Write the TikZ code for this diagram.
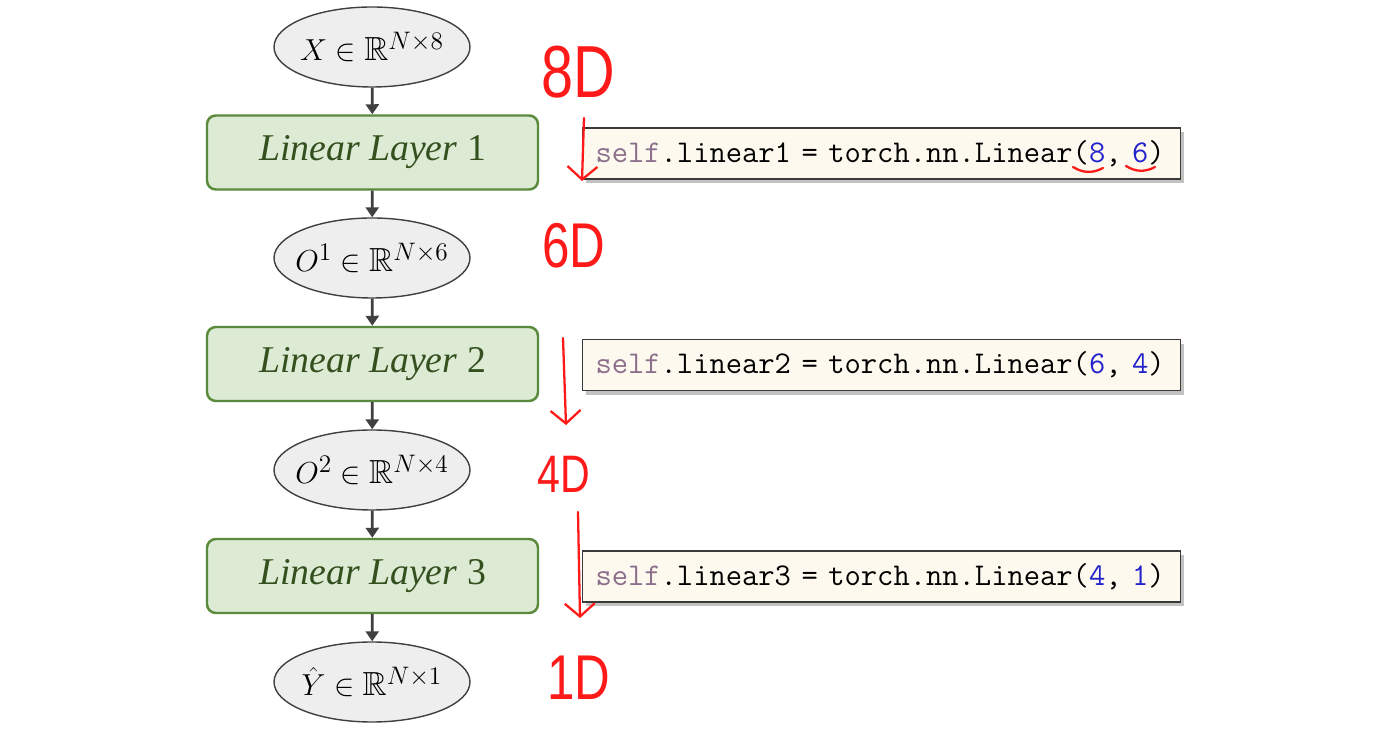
\documentclass[tikz,border=0pt]{standalone}
\usepackage{amssymb}
\usepackage{fontspec}
\newfontfamily\penfont[FakeStretch=0.78]{Liberation Sans}
\newfontfamily\layerfont{Liberation Serif}
\usetikzlibrary{arrows.meta, shapes.geometric, shadows}
\definecolor{edge}{HTML}{404040}
\definecolor{tensorfill}{HTML}{EEEEEE}
\definecolor{layeredge}{HTML}{5A8A3C}
\definecolor{layerfill}{HTML}{DDEBD5}
\definecolor{layertext}{HTML}{34501F}
\definecolor{codeedge}{HTML}{3A3A3A}
\definecolor{codefill}{HTML}{FDF9EE}
\definecolor{selfcol}{HTML}{8B6F8B}
\definecolor{numcol}{HTML}{2222CC}
\definecolor{pen}{HTML}{FF1A1A}
\tikzset{
  tensor/.style={ellipse, draw=edge, fill=tensorfill, line width=0.8pt,
    minimum width=3.92cm, minimum height=1.6cm, inner sep=0pt,
    font=\fontsize{19}{22}\selectfont},
  layer/.style={draw=layeredge, fill=layerfill, rounded corners=5pt, line width=1.4pt,
    minimum width=6.62cm, minimum height=1.48cm, inner sep=0pt, text=layertext,
    font=\layerfont\fontsize{21.5}{24}\selectfont},
  code/.style={draw=codeedge, fill=codefill, line width=0.6pt, anchor=west,
    text width=11.44cm, inner xsep=0.26cm, minimum height=1.02cm, align=left,
    font=\ttfamily\fontsize{18}{21}\selectfont,
    drop shadow={shadow xshift=2pt, shadow yshift=-2.5pt, opacity=0.4, fill=black!60}},
  flow/.style={-{Triangle[length=2mm, width=2.6mm]}, draw=edge, line width=1.6pt},
  pen/.style={draw=pen, line width=1.3pt, line cap=round, line join=round},
  penarrow/.style={pen, -{Straight Barb[length=2.6mm, width=6mm]}},
  penmark/.style={font=\penfont\fontsize{36}{40}\selectfont, text=pen, inner sep=0pt}
}
\newcommand{\selfkw}{{\color{selfcol}self}}
\newcommand{\num}[1]{{\color{numcol}#1}}
\newcommand{\tlabel}[1]{\makebox[0pt]{$#1$}}
\newcommand{\llabel}[1]{\textit{Linear Layer} #1}

\begin{document}
\begin{tikzpicture}[x=1cm,y=1cm]
\useasboundingbox (0,0) rectangle (27.62,14.66);

% Network flow
\node[tensor] (x) at (7.44,13.72) {\tlabel{X \in \mathbb{R}^{N\times 8}}};
\node[layer] (lin1) at (7.45,11.61) {\llabel{1}};
\node[tensor] (o1) at (7.44,9.50) {\tlabel{O^{1} \in \mathbb{R}^{N\times 6}}};
\node[layer] (lin2) at (7.45,7.38) {\llabel{2}};
\node[tensor] (o2) at (7.44,5.26) {\tlabel{O^{2} \in \mathbb{R}^{N\times 4}}};
\node[layer] (lin3) at (7.45,3.14) {\llabel{3}};
\node[tensor] (yhat) at (7.44,1.02) {\tlabel{\hat{Y} \in \mathbb{R}^{N\times 1}}};

\draw[flow] (x) -- (lin1);
\draw[flow] (lin1) -- (o1);
\draw[flow] (o1) -- (lin2);
\draw[flow] (lin2) -- (o2);
\draw[flow] (o2) -- (lin3);
\draw[flow] (lin3) -- (yhat);

% Code lines
\node[code] (code1) at (11.64,11.59)
  {\selfkw.linear1 = torch.nn.Linear(\num{8}, \num{6})};
\node[code] (code2) at (11.64,7.36)
  {\selfkw.linear2 = torch.nn.Linear(\num{6}, \num{4})};
\node[code] (code3) at (11.64,3.13)
  {\selfkw.linear3 = torch.nn.Linear(\num{4}, \num{1})};

% Handwritten notes
\node[penmark, font=\penfont\fontsize{42}{46}\selectfont] (d8) at (11.56,13.22) {8D};
\node[penmark] (d6) at (11.48,9.74) {6D};
\node[penmark, font=\penfont\fontsize{30}{34}\selectfont] (d4) at (11.28,5.18) {4D};
\node[penmark] (d1) at (11.58,1.10) {1D};

\coordinate (a1top) at (11.68,12.30);
\coordinate (a1tip) at (11.64,11.04);
\coordinate (a2top) at (11.26,7.90);
\coordinate (a2tip) at (11.32,6.16);
\coordinate (a3top) at (11.56,4.42);
\coordinate (a3tip) at (11.60,2.30);
\draw[penarrow] (a1top) -- (a1tip);
\draw[penarrow] (a2top) -- (a2tip);
\draw[penarrow] (a3top) -- (a3tip);

\coordinate (u8a) at (21.46,11.32);
\coordinate (u8b) at (22.06,11.30);
\coordinate (u6a) at (22.52,11.34);
\coordinate (u6b) at (23.10,11.32);
\draw[pen] (u8a) to[bend right=30] (u8b);
\draw[pen] (u6a) to[bend right=30] (u6b);

\end{tikzpicture}
\end{document}
